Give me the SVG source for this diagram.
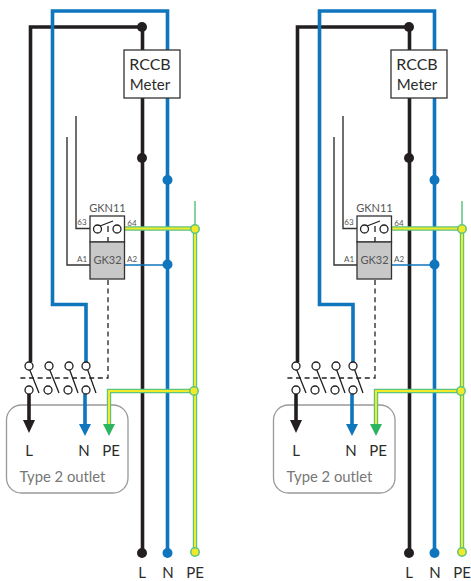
<svg xmlns="http://www.w3.org/2000/svg" width="471" height="581" viewBox="0 0 471 581">
<style>
text{font-family:Lato,"Noto Sans",sans-serif;text-anchor:middle;fill:#2b2b2b}
.k,.b,.g,.y,.t,.tb,.d,.gt{fill:none}
.k{stroke:#231f20;stroke-width:3.6}
.b{stroke:#0f75bd;stroke-width:3.6}
.g{stroke:#5cc47f;stroke-width:4.4}
.y{stroke:#f2ea28;stroke-width:2}
.gt{stroke:#5cc47f;stroke-width:1.5}
.t{stroke:#333;stroke-width:1.4}
.tb{stroke:#0f75bd;stroke-width:1.4}
.d{stroke:#222;stroke-width:1.3;stroke-dasharray:5 3.6}
.c{fill:#fff;stroke:#231f20;stroke-width:1.3}
.s{fill:none;stroke:#231f20;stroke-width:1.3}
.box{fill:#fff;stroke:#333;stroke-width:1.3}
.grey{fill:#c8c8c8;stroke:#333;stroke-width:1.3}
.out{fill:#fff;stroke:#999;stroke-width:1.3}
.lab{font-size:8px;fill:#555}
.gk{font-size:11px;fill:#555}
.p{font-size:15px}
.dk{fill:#231f20}.dbl{fill:#0f75bd}.dgr{fill:#2cb55f}.dy{fill:#f2ea28;stroke:#5cc47f;stroke-width:1.500}
</style>
<g id="left-circuit">
<g id="outlet-1"><rect class="out" x="6.500" y="405" width="121.500" height="88" rx="15"/>
<text class="p" x="29" y="456">L</text><text class="p" x="84" y="456">N</text><text class="p" x="111" y="456">PE</text>
<text x="62.500" y="482" font-size="14.800" style="fill:#777">Type 2 outlet</text></g>
<g id="connectors-1">
<path class="k" d="M142 27H30.500V362"/>
<path class="k" d="M142.500 27V552"/>
<path class="b" d="M86 362V304.500H52.500V11H167.500V552"/>
<path class="t" d="M67 137V265H90"/>
<path class="t" d="M76 116V228.500H90"/>
<path class="tb" d="M125 265H167"/>
<path class="d" d="M108 280V378H18"/>
<path class="k" d="M29 394V421"/>
<path class="dk" d="M23 420H35L29 433Z"/>
<path class="b" d="M85 394V425"/>
<path class="dbl" d="M79 424H91L85 436Z"/>
<path class="gt" d="M195 201V228"/>
<path class="g" d="M125 228.500H195V552"/>
<path class="y" d="M125 228.500H195V552"/>
<path class="g" d="M195 391H109V425"/>
<path class="y" d="M195 391H109V425"/>
<path class="dgr" d="M103 424H115L109 436Z"/>
</g>
<g id="switch-1">
<path class="s" d="M29 368L39 393M49 368L59 393M69 368L78 393M87 368L96 393"/>
<circle class="c" cx="29" cy="366" r="4"/><circle class="c" cx="49" cy="366" r="4"/><circle class="c" cx="69" cy="366" r="4"/><circle class="c" cx="86" cy="366" r="4"/>
<circle class="c" cx="29" cy="390" r="4"/><circle class="c" cx="48" cy="390" r="4"/><circle class="c" cx="68" cy="390" r="4"/><circle class="c" cx="86" cy="390" r="4"/>
</g>
<g id="meter-1">
<rect class="box" x="124" y="50" width="56" height="48"/>
<text x="150" y="70" font-size="16">RCCB</text>
<text x="150" y="90" font-size="15">Meter</text>
</g>
<g id="gkn11-1">
<rect class="box" x="90" y="216" width="34.500" height="26"/>
<circle class="c" cx="97.500" cy="229" r="4"/><circle class="c" cx="117" cy="229" r="4"/>
<path class="s" d="M100 226L113 221M108 226V232M108 237V242"/>
<text class="gk" x="107.500" y="212">GKN11</text>
<text class="lab" x="82" y="225">63</text>
<text class="lab" x="132" y="225.500">64</text>
</g>
<g id="gk32-1">
<rect class="grey" x="90" y="242" width="34.500" height="37"/>
<text class="gk" x="107.500" y="264">GK32</text>
<text class="lab" x="82" y="262">A1</text>
<text class="lab" x="132" y="262">A2</text>
</g>
<g id="dots-1">
<circle class="dk" cx="142" cy="27" r="5"/><circle class="dk" cx="142" cy="158" r="5"/><circle class="dk" cx="142" cy="553" r="5"/>
<circle class="dbl" cx="167.500" cy="180" r="5"/><circle class="dbl" cx="167.500" cy="264.500" r="5"/><circle class="dbl" cx="167.500" cy="553" r="5"/>
<circle class="dy" cx="195" cy="229" r="4.200"/><circle class="dy" cx="194" cy="391" r="4.200"/><circle class="dy" cx="195" cy="552" r="4.200"/>
</g>
<g id="terminals-1"><text class="p" x="142" y="578">L</text><text class="p" x="168" y="578">N</text><text class="p" x="195" y="578">PE</text></g>
</g>
<g id="right-circuit" transform="translate(267)">
<g id="outlet-2"><rect class="out" x="6.500" y="405" width="121.500" height="88" rx="15"/>
<text class="p" x="29" y="456">L</text><text class="p" x="84" y="456">N</text><text class="p" x="111" y="456">PE</text>
<text x="62.500" y="482" font-size="14.800" style="fill:#777">Type 2 outlet</text></g>
<g id="connectors-2">
<path class="k" d="M142 27H30.500V362"/>
<path class="k" d="M142.500 27V552"/>
<path class="b" d="M86 362V304.500H52.500V11H167.500V552"/>
<path class="t" d="M67 137V265H90"/>
<path class="t" d="M76 116V228.500H90"/>
<path class="tb" d="M125 265H167"/>
<path class="d" d="M108 280V378H18"/>
<path class="k" d="M29 394V421"/>
<path class="dk" d="M23 420H35L29 433Z"/>
<path class="b" d="M85 394V425"/>
<path class="dbl" d="M79 424H91L85 436Z"/>
<path class="gt" d="M195 201V228"/>
<path class="g" d="M125 228.500H195V552"/>
<path class="y" d="M125 228.500H195V552"/>
<path class="g" d="M195 391H109V425"/>
<path class="y" d="M195 391H109V425"/>
<path class="dgr" d="M103 424H115L109 436Z"/>
</g>
<g id="switch-2">
<path class="s" d="M29 368L39 393M49 368L59 393M69 368L78 393M87 368L96 393"/>
<circle class="c" cx="29" cy="366" r="4"/><circle class="c" cx="49" cy="366" r="4"/><circle class="c" cx="69" cy="366" r="4"/><circle class="c" cx="86" cy="366" r="4"/>
<circle class="c" cx="29" cy="390" r="4"/><circle class="c" cx="48" cy="390" r="4"/><circle class="c" cx="68" cy="390" r="4"/><circle class="c" cx="86" cy="390" r="4"/>
</g>
<g id="meter-2">
<rect class="box" x="124" y="50" width="56" height="48"/>
<text x="150" y="70" font-size="16">RCCB</text>
<text x="150" y="90" font-size="15">Meter</text>
</g>
<g id="gkn11-2">
<rect class="box" x="90" y="216" width="34.500" height="26"/>
<circle class="c" cx="97.500" cy="229" r="4"/><circle class="c" cx="117" cy="229" r="4"/>
<path class="s" d="M100 226L113 221M108 226V232M108 237V242"/>
<text class="gk" x="107.500" y="212">GKN11</text>
<text class="lab" x="82" y="225">63</text>
<text class="lab" x="132" y="225.500">64</text>
</g>
<g id="gk32-2">
<rect class="grey" x="90" y="242" width="34.500" height="37"/>
<text class="gk" x="107.500" y="264">GK32</text>
<text class="lab" x="82" y="262">A1</text>
<text class="lab" x="132" y="262">A2</text>
</g>
<g id="dots-2">
<circle class="dk" cx="142" cy="27" r="5"/><circle class="dk" cx="142" cy="158" r="5"/><circle class="dk" cx="142" cy="553" r="5"/>
<circle class="dbl" cx="167.500" cy="180" r="5"/><circle class="dbl" cx="167.500" cy="264.500" r="5"/><circle class="dbl" cx="167.500" cy="553" r="5"/>
<circle class="dy" cx="195" cy="229" r="4.200"/><circle class="dy" cx="194" cy="391" r="4.200"/><circle class="dy" cx="195" cy="552" r="4.200"/>
</g>
<g id="terminals-2"><text class="p" x="142" y="578">L</text><text class="p" x="168" y="578">N</text><text class="p" x="195" y="578">PE</text></g>
</g>
</svg>
